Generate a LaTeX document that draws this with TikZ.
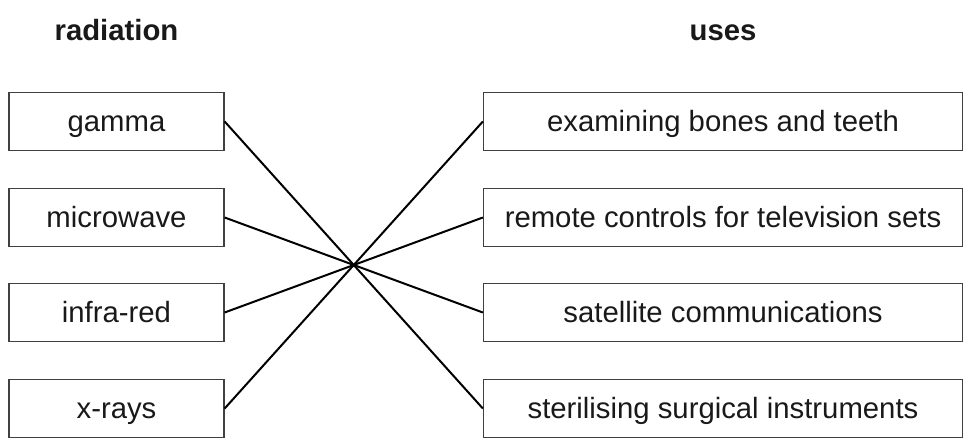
\documentclass[tikz,border=0pt]{standalone}
\usepackage{fontspec}
\setmainfont{Liberation Sans}
\begin{document}
\begin{tikzpicture}[x=1pt, y=-1pt,
  every node/.style={font=\fontsize{29.3}{34}\selectfont, text=black!90, text height=22pt, text depth=2pt},
  radbox/.style={draw=black!75, line width=1.3pt, minimum width=215pt, minimum height=58pt, inner sep=0pt},
  usebox/.style={draw=black!75, line width=1.3pt, minimum width=479pt, minimum height=58pt, inner sep=0pt},
  head/.style={font=\fontsize{29.3}{34}\selectfont\bfseries}]
\useasboundingbox (0,0) rectangle (969,439);
\node[head] (hrad) at (116.5,30) {radiation};
\node[head] (huse) at (723,30) {uses};
\node[radbox] (gamma) at (116.5,121.5) {gamma};
\node[radbox] (micro) at (116.5,217.5) {microwave};
\node[radbox] (infra) at (116.5,312.5) {infra-red};
\node[radbox] (xray) at (116.5,408.5) {x-rays};
\node[usebox] (bones) at (723,121.5) {examining bones and teeth};
\node[usebox] (remote) at (723,217.5) {remote controls for television sets};
\node[usebox] (sat) at (723,312.5) {satellite communications};
\node[usebox] (steril) at (723,408.5) {sterilising surgical instruments};
\draw[line width=2pt] (gamma.east) -- (steril.west);
\draw[line width=2pt] (micro.east) -- (sat.west);
\draw[line width=2pt] (infra.east) -- (remote.west);
\draw[line width=2pt] (xray.east) -- (bones.west);
\end{tikzpicture}
\end{document}
